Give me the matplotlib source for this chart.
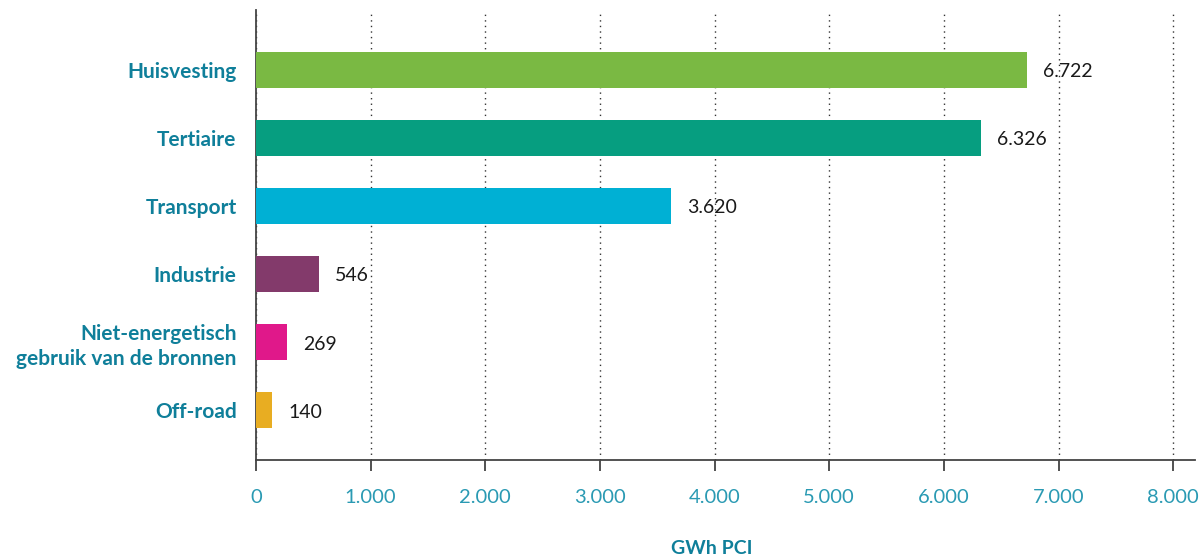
import matplotlib
matplotlib.use("Agg")
import matplotlib.pyplot as plt
from matplotlib.ticker import FuncFormatter

categories = ["Huisvesting", "Tertiaire", "Transport", "Industrie",
              "Niet-energetisch\ngebruik van de bronnen", "Off-road"]
values = [6722, 6326, 3620, 546, 269, 140]
colors = ["#7ab943", "#069e80", "#00b0d4", "#833a6b", "#e0188a", "#e8ad22"]
xticks = [0, 1000, 2000, 3000, 4000, 5000, 6000, 7000, 8000]

def nl(v):
    return f"{int(v):,}".replace(",", ".")

plt.rcParams['font.family'] = ['Lato', 'DejaVu Sans']

fig = plt.figure(figsize=(12.04, 5.6), dpi=100)
ax = fig.add_axes([256/1204, 1-460/560, 939/1204, 450/560])

ypos = list(range(len(categories)))
ax.barh(ypos, values, height=0.53, color=colors, zorder=3)
for y, v in zip(ypos, values):
    ax.text(v + 140, y + 0.03, nl(v), va='center', ha='left', fontsize=14, color='#1a1a1a', zorder=4)

ax.set_ylim(5.735, -0.88)
ax.set_xlim(0, 8190)
ax.set_xticks(xticks)
ax.xaxis.set_major_formatter(FuncFormatter(lambda v, p: nl(v)))
ax.set_yticks(ypos)
ax.set_yticklabels(categories, fontsize=15, fontweight='bold', color='#0f7f9a', linespacing=1.3)
ax.tick_params(axis='y', length=0, pad=14)
ax.tick_params(axis='x', length=8, width=1.2, color='#333333', labelsize=14.5, labelcolor='#2a9ab3', pad=13)
for lab in ax.get_yticklabels():
    lab.set_horizontalalignment('right')

ax.grid(axis='x', linestyle=(0, (1, 3)), color='#333333', linewidth=1, zorder=0)
ax.grid(axis='y', visible=False)
for s in ['top', 'right']:
    ax.spines[s].set_visible(False)
for s in ['left', 'bottom']:
    ax.spines[s].set_color('#444444')
    ax.spines[s].set_linewidth(1.3)

fig.text(712/1204, 1-548/560, "GWh PCI", fontsize=14, fontweight='bold', color='#0f7f9a',
         ha='center', va='center')

fig.savefig("out.png", dpi=100)
